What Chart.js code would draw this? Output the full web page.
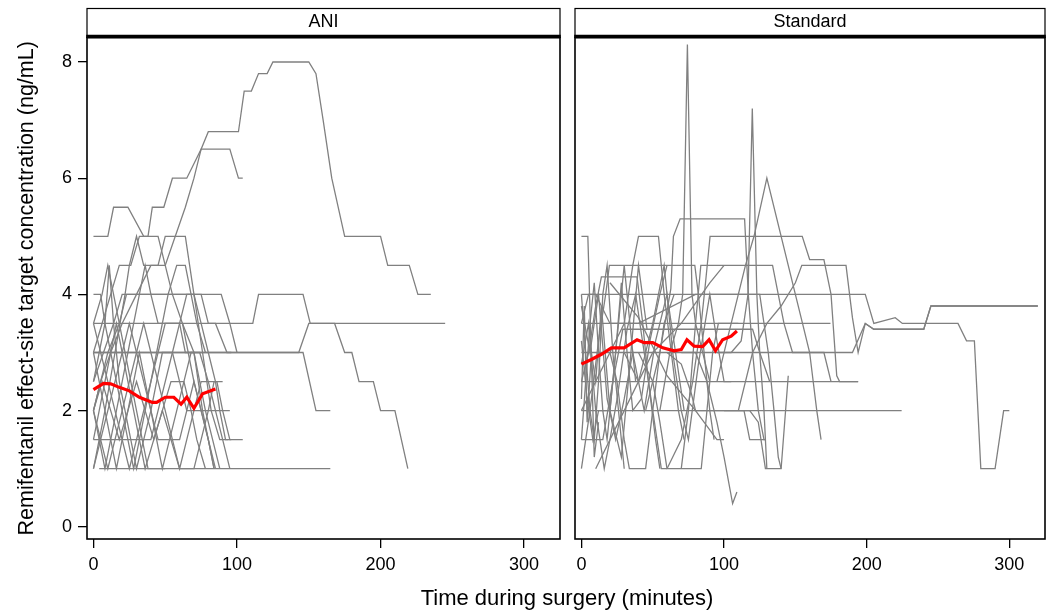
<!DOCTYPE html>
<html>
<head>
<meta charset="utf-8">
<script src="https://cdn.jsdelivr.net/npm/chart.js@4.4.1/dist/chart.umd.min.js"></script>
<style>
  body { margin: 0; background: #fff; }
  #wrap { position: relative; width: 1054px; height: 612px; overflow: hidden; }
  #cAni { position: absolute; left: 0; top: 0; }
  #cStd { position: absolute; left: 568px; top: 0; }
  #xTitle { position: absolute; left: 0; width: 1134px; top: 585px; text-align: center;
            font: 22px "Liberation Sans", Arial, sans-serif; color: #000; }
</style>
</head>
<body>
<div id="wrap">
  <canvas id="cAni" width="568" height="612"></canvas>
  <canvas id="cStd" width="486" height="612"></canvas>
  <div id="xTitle">Time during surgery (minutes)</div>
</div>
<script>
// panel names, axis ticks
var panelNames = ['ANI', 'Standard'];
var xTicks = [0, 100, 200, 300];
var yTicks = [0, 2, 4, 6, 8];

// ANI group: one [minute, ng/mL] list per patient
var aniPatients = [
  [[0,2],[5,2.5],[12,3],[20,3.5],[30,4],[40,4.5],[50,4.5],[57,5],[64,5.5],[70,6],[75,6.5],[80,6.8],[101,6.8],[105,7.5],[110,7.5],[115,7.8],[121,7.8],[125,8],[150,8],[155,7.8],[160,7],[166,6],[175,5],[200,5],[205,4.5],[220,4.5],[226,4],[235,4]],
  [[0,3],[6,3.5],[12,4],[18,4.5],[26,4.5],[32,5],[38,5],[41,5.5],[49,5.5],[55,6],[65,6],[75,6.5],[95,6.5],[101,6],[104,6]],
  [[0,5],[10,5],[14,5.5],[24,5.5],[35,5],[45,5],[55,4],[62,3.5],[70,3],[78,2],[83,1.5],[88,1]],
  [[0,1],[8,2],[15,3],[22,4],[25,4.5],[30,5],[35,4.5],[45,4.5],[50,5],[64,5],[70,4],[76,3],[82,2],[88,1.5],[94,1.5]],
  [[0,3.5],[111,3.5],[115,4],[146,4],[151,3.5],[245,3.5]],
  [[0,3],[146,3],[155,2],[165,2]],
  [[0,3],[143,3],[150,3.5],[168,3.5],[175,3],[180,3],[185,2.5],[195,2.5],[200,2],[210,2],[219,1]],
  [[4,1],[165,1]],
  [[0,2],[10,3],[18,3.5],[23,4],[89,4],[95,3.5],[100,3]],
  [[0,2.5],[7,3],[14,3.5],[20,4],[75,4],[80,3.5],[85,3.5],[93,3],[96,3]],
  [[0,3.5],[5,3],[10,2.5],[15,2],[20,1.5],[25,1],[30,1.5],[35,2],[40,2.5],[45,3],[50,3.5],[62,3.5],[66,3],[70,2.5],[75,2],[80,1.5],[84,1]],
  [[0,2],[5,1.5],[10,1],[15,1.5],[20,2],[25,2.5],[30,3],[35,3.5],[40,3],[45,2.5],[50,2],[55,1.5],[60,1],[65,1.5],[70,2],[75,2.5],[86,2.5],[90,2],[95,1.5],[104,1.5]],
  [[0,1.5],[4,2],[8,2.5],[12,3],[16,3.5],[20,3],[24,2.5],[28,2],[32,1.5],[36,1],[42,1.5],[48,2],[54,2.5],[63,2.5],[68,2],[72,1.5],[78,1]],
  [[0,2.5],[4,3],[8,3.5],[11,4.5],[14,3.5],[18,2.5],[22,2],[26,1.5],[30,1],[35,1.5],[40,2],[44,2.5],[48,3],[55,3],[60,2.5],[65,2],[95,2]],
  [[0,1],[5,1.5],[10,2],[15,2.5],[20,3],[25,3.5],[30,3],[35,2.5],[40,2],[45,1.5],[60,1.5],[65,2],[70,2.5],[75,2],[80,1.5],[85,1]],
  [[0,3],[4,2.5],[8,2],[12,1.5],[16,1],[20,1.5],[24,2],[28,2.5],[32,3],[36,2.5],[40,2],[44,1.5],[48,1],[53,1.5],[58,2],[63,2.5],[68,3],[74,3],[80,2.5],[85,2],[90,1.5],[95,1]],
  [[0,2],[6,2.5],[12,2],[18,1.5],[24,2],[30,2.5],[36,2],[42,1.5],[48,2],[54,1.5],[60,1],[70,1],[75,1.5],[80,2],[84,2.5],[90,2.5]],
  [[0,1.5],[40,1.5],[45,2],[50,2.5],[55,3],[60,3.5],[65,4],[70,4],[75,3.5],[80,3],[85,2.5],[88,2],[92,1.5],[96,1.5]],
  [[0,3.5],[6,4],[10,4.5],[14,4],[18,3.5],[22,3],[26,2.5],[30,2],[34,1.5],[38,1],[50,1]],
  [[0,4],[5,4],[8,3.5],[12,3],[16,2.5],[20,2],[24,1.5],[28,1],[32,1.5],[36,2],[40,2.5],[44,3],[48,3.5],[52,4],[58,4.5],[64,4.5],[68,4],[72,3.5],[78,3]],
  [[0,2],[4,1.5],[8,1],[12,1.5],[16,2],[20,2.5],[24,3],[28,3.5],[32,4],[36,4.5],[40,4],[45,3.5],[60,3.5],[64,3],[70,3],[76,2],[80,1.5],[84,1]]
];
var aniMean = [[0,2.36],[7,2.47],[12,2.46],[18,2.4],[25,2.34],[32,2.23],[41,2.14],[44,2.14],[50,2.23],[56,2.23],[61,2.11],[65,2.23],[70,2.04],[76,2.29],[85,2.37]];

// Standard group
var stdPatients = [
  [[0,5],[4.5,5],[9,1.2],[12,1.8]],
  [[0,1],[6,2],[12,3.2],[17,4],[19.6,4.5],[79.5,4.5],[82,4],[86,3],[90,2],[93,1.5]],
  [[0,2],[10,2.5],[20,3],[30,3.5],[36,4.5],[40,5],[54,5],[58,4],[63,3],[68,2],[72,1.5]],
  [[45,2],[55,3],[62.7,4.1],[64.5,5],[69.2,5.3],[114.4,5.3],[117,4],[120,3],[124,2],[128,1.5],[129,1.5]],
  [[55,2],[62,3],[68,3.5],[71,4],[74.3,8.3],[77.5,4],[80,3.5],[85,3],[90,2.5]],
  [[70,1],[75,2],[80,3.5],[83.7,4.5],[134,4.5],[138,4],[142,3.5],[148,3],[170,3],[175,2.5]],
  [[60,1],[70,1.5],[78,2.5],[84,3.5],[87,4.2],[90.2,5],[154.8,5],[160,4.6],[170,4.6],[175,4],[179,2.6],[181,2.5],[194,2.5]],
  [[110,2],[120,3],[130,3.5],[140,3.8],[150,4.2],[154.5,4.5],[185.5,4.5],[190,3.6],[194,3],[199,3.5],[205,3.4],[240,3.4],[245,3.8],[320,3.8]],
  [[95,2.5],[105,3.5],[115,4.5],[121,5],[130,6],[149,4.1],[155,3.5],[160,3],[165,2],[168,1.5]],
  [[95,3],[105,3],[112,3.2],[116.8,4],[119.8,7.2],[123,4],[125,3],[128,2],[130,1]],
  [[0,2.5],[5,3],[10,3.8],[14,4.3],[39,4.3],[43,3.5],[47,2.5],[52,1.5],[55,1]],
  [[0,3.5],[5,4],[124,4],[199,4],[205,3.5],[220,3.6],[225,3.5],[264,3.5],[270,3.2],[275.5,3.2],[280,1],[290,1],[296,2],[300,2]],
  [[0,3],[190,3],[199,3.5],[205,3.4],[240,3.4],[245,3.8],[320,3.8]],
  [[0,3.5],[174.6,3.5]],
  [[0,2.5],[194,2.5]],
  [[0,2],[224.5,2]],
  [[100,2],[118,2],[124,1.8],[129,1],[140,1],[145,2.6]],
  [[0,4],[10,4],[20,3.5],[40,3.5],[80,4],[125,4],[131,3],[135,2],[138,1.2],[140,1]],
  [[70,3],[80,3],[88,2.5],[95,1.8],[100,1.2],[106,0.4],[109,0.6]],
  [[20,3],[25,2.5],[30,1.5],[33.6,1],[45,1],[50,2],[55,3],[58,3.5],[65,4]],
  [[40,3],[50,2.5],[55,1.8],[60,1],[84,1],[88,2],[92,3],[96,3.5],[110,3.5]],
  [[60,3],[70,2.8],[77,2.3],[80,2],[114,2],[118,1.5],[129,1.5]],
  [[0,1.5],[15,1.5],[22,2.5],[26,3],[29,3.4],[120,3.4],[125,3],[132,2.5]],
  [[0,4],[3,3],[6,2],[9,1.5],[12,2.5],[15,4],[18,4.5],[22,3],[26,2],[30,1]],
  [[0,1.5],[3,2.5],[6,3.5],[9,4.2],[12,3],[15,2],[18,1.5],[22,2.5],[26,3.5],[30,4.5],[34,3.5],[38,2.5]],
  [[0,3.2],[4,2.2],[8,1.5],[12,2],[20,2],[24,3],[28,4.2],[32,3],[36,2],[42,2.2],[48,3.2],[55,4],[60,4.5]],
  [[0,2.8],[5,3.5],[10,2],[16,1],[20,1.5],[25,2.2],[32,3.4],[38,4],[44,3],[50,2],[56,1],[60,1]],
  [[0,3.8],[6,3],[12,4],[18,2.2],[24,1.5],[30,2.2],[36,3],[44,2],[52,3.2],[60,4],[66,3],[72,2]],
  [[0,2.2],[2,3.8],[4,1.8],[7,3],[10,2.5],[14,3.8],[20,2],[28,1.2],[34,2.8],[40,4.5],[46,3.4]],
  [[30,3],[40,2.5],[50,3.5],[58,4.5],[64,3],[70,2],[75,1.5],[82,2.8],[90,4],[95,3.2],[100,2.5],[105,2.5]],
  [[10,1],[30,2],[50,3],[70,3.5],[90,4.2],[100,4.5]],
  [[20,4.2],[40,3.6],[60,2.6],[80,2],[95,1.5],[100,1.5]]
];
var stdMean = [[0,2.8],[7,2.88],[14,2.97],[21,3.08],[30,3.08],[39,3.22],[44,3.17],[50,3.17],[57,3.08],[65,3.03],[70,3.05],[74,3.22],[79,3.11],[85,3.1],[89.5,3.22],[94,3.03],[99,3.22],[105,3.28],[109,3.37]];

var FONT = '"Liberation Sans", Arial, Helvetica, sans-serif';

function toXY(arr) {
  return arr.map(function(p) { return {x: p[0], y: p[1]}; });
}

function buildDatasets(patients, mean) {
  var sets = [{
    data: toXY(mean),
    borderColor: '#ff0000',
    borderWidth: 3.2,
    pointRadius: 0,
    tension: 0
  }];
  patients.forEach(function(p) {
    sets.push({
      data: toXY(p),
      borderColor: '#808080',
      borderWidth: 1.3,
      pointRadius: 0,
      tension: 0
    });
  });
  return sets;
}

// white background, strip above the panel, and the panel frame
var panelPlugin = {
  id: 'panelFrame',
  beforeDraw: function(chart) {
    var ctx = chart.ctx;
    var a = chart.chartArea;
    ctx.save();
    ctx.fillStyle = 'white';
    ctx.fillRect(0, 0, chart.width, chart.height);
    ctx.strokeStyle = '#000';
    ctx.lineWidth = 1.2;
    ctx.strokeRect(a.left, 8.5, a.right - a.left, a.top - 8.5);
    ctx.restore();
  },
  afterDraw: function(chart) {
    var ctx = chart.ctx;
    var a = chart.chartArea;
    ctx.save();
    ctx.strokeStyle = '#000';
    ctx.lineWidth = 1.6;
    ctx.strokeRect(a.left, a.top, a.right - a.left, a.bottom - a.top);
    ctx.lineWidth = 3.4;
    ctx.beginPath();
    ctx.moveTo(a.left - 0.8, a.top - 1.2);
    ctx.lineTo(a.right + 0.8, a.top - 1.2);
    ctx.stroke();
    ctx.restore();
  }
};

function makeChart(id, name, patients, mean, showY) {
  return new Chart(document.getElementById(id), {
    type: 'line',
    data: { datasets: buildDatasets(patients, mean) },
    options: {
      animation: false,
      responsive: false,
      events: [],
      layout: { padding: { left: showY ? 0 : 7, right: showY ? 8 : 9, top: 0, bottom: 0 } },
      plugins: {
        legend: { display: false },
        tooltip: { enabled: false },
        title: {
          display: true,
          text: name,
          fullSize: false,
          color: '#000',
          font: { family: FONT, size: 18, weight: 'normal' },
          padding: { top: 11, bottom: 5 }
        }
      },
      scales: {
        x: {
          type: 'linear',
          min: -4.5,
          max: 325,
          afterBuildTicks: function(s) { s.ticks = xTicks.map(function(v) { return {value: v}; }); },
          afterFit: function(s) { s.height = 73; },
          grid: { drawOnChartArea: false, drawTicks: true, tickLength: 9, color: '#000', lineWidth: 1.3 },
          border: { display: false },
          ticks: { color: '#000', font: { family: FONT, size: 18 }, padding: 6, maxRotation: 0 }
        },
        y: {
          type: 'linear',
          display: showY,
          min: -0.21,
          max: 8.42,
          afterBuildTicks: function(s) { s.ticks = yTicks.map(function(v) { return {value: v}; }); },
          afterFit: function(s) { s.width = showY ? 87 : 0; },
          grid: { drawOnChartArea: false, drawTicks: true, tickLength: 9, color: '#000', lineWidth: 1.3 },
          border: { display: false },
          ticks: { color: '#000', font: { family: FONT, size: 18 }, padding: 6 },
          title: {
            display: true,
            text: 'Remifentanil effect-site target concentration (ng/mL)',
            color: '#000',
            font: { family: FONT, size: 21.5 },
            padding: { top: 14, bottom: 0 }
          }
        }
      }
    },
    plugins: [panelPlugin]
  });
}

var chartAni = makeChart('cAni', panelNames[0], aniPatients, aniMean, true);
var chartStd = makeChart('cStd', panelNames[1], stdPatients, stdMean, false);
</script>
</body>
</html>
